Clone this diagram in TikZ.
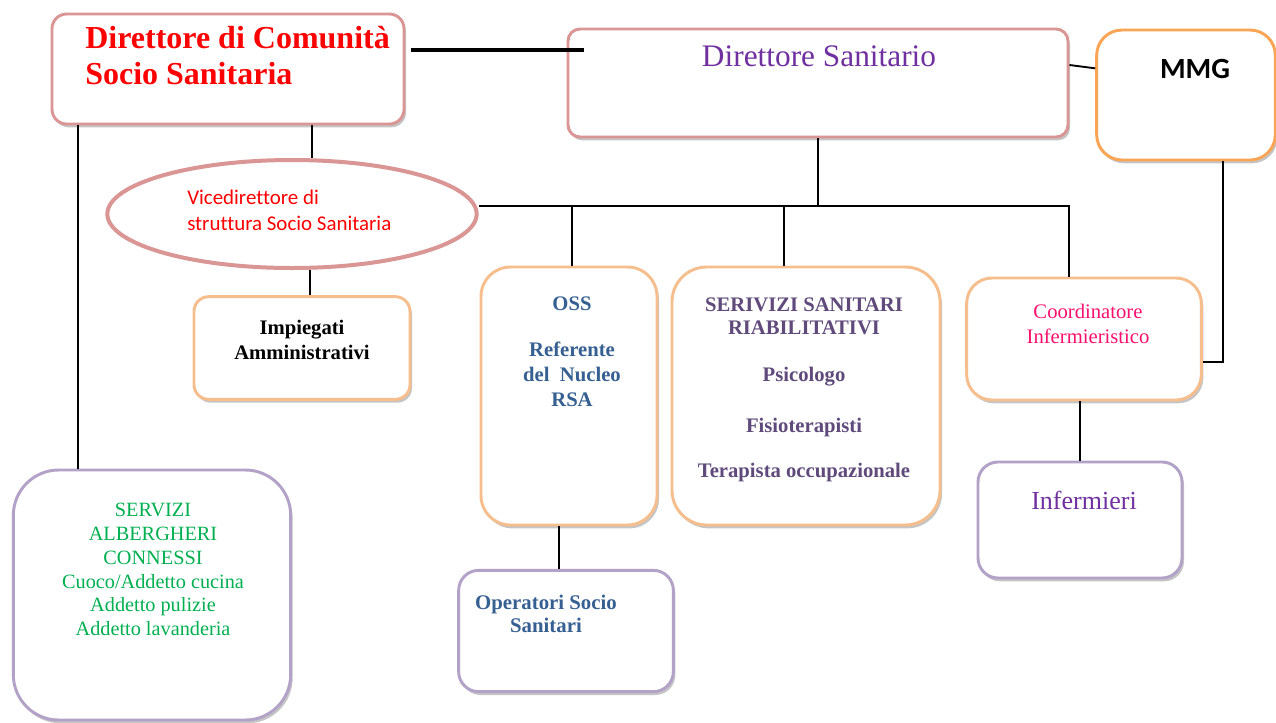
\documentclass[tikz,border=0pt]{standalone}
\usepackage{fontspec}
\setmainfont{Liberation Serif}
\newfontfamily\calibri[Ligatures={NoCommon}]{Carlito}
\usepackage{tikz}
\usetikzlibrary{arrows,shapes,positioning,shadows}
\usepackage{xcolor}
\definecolor{ocpink}{RGB}{217,150,148}
\definecolor{ocorange}{RGB}{245,190,140}
\definecolor{ocdeeporange}{RGB}{249,165,85}
\definecolor{ocpurple}{RGB}{179,162,199}
\definecolor{ocred}{RGB}{255,0,0}
\definecolor{ocviolet}{RGB}{112,48,160}
\definecolor{ocblue}{RGB}{55,96,146}
\definecolor{ocplum}{RGB}{96,74,123}
\definecolor{ocmagenta}{RGB}{250,15,110}
\definecolor{ocgreen}{RGB}{0,176,80}
\tikzstyle{box} = [rectangle, fill=white, line width=2.2pt, drop shadow={shadow xshift=1.5pt, shadow yshift=-2.5pt, fill=black!45, opacity=0.5}]
\tikzstyle{pinkbox} = [box, draw=ocpink]
\tikzstyle{orangebox} = [box, draw=ocorange]
\tikzstyle{purplebox} = [box, draw=ocpurple]
\tikzstyle{txt} = [inner sep=0pt, align=center, anchor=north]
\tikzstyle{link} = [line width=1.4pt, color=black]

\begin{document}
\begin{tikzpicture}[x=0.75pt, y=-0.75pt]
\fill[white] (0,0) rectangle (1276,722);
\useasboundingbox (0,0) rectangle (1276,722);

% Top level
\node (dirCom) [pinkbox, rounded corners=11pt, minimum width=264pt, minimum height=82.5pt] at (228,69) {};
\node (dirComT) [txt, anchor=north west, align=left, text=ocred, font=\fontsize{24}{27}\selectfont\bfseries] at (85,26) {Direttore di Comunità\\Socio Sanitaria};
\node (dirSan) [pinkbox, rounded corners=9pt, minimum width=375pt, minimum height=81pt] at (818,83) {};
\node (dirSanT) [txt, anchor=base, text=ocviolet, font=\fontsize{23.5}{27}\selectfont] at (819,66) {Direttore Sanitario};
\node (mmg) [box, draw=ocdeeporange, rounded corners=19pt, minimum width=134pt, minimum height=97.5pt] at (1186,95) {};
\node (mmgT) [txt, anchor=base, font=\calibri\bfseries\fontsize{22}{26}\selectfont] at (1195,78) {MMG};

% Second level
\node (vice) [ellipse, draw=ocpink, line width=3pt, fill=white, minimum width=277pt, minimum height=81pt] at (292,214) {};
\node (viceT) [txt, anchor=north west, align=left, text=ocred, font=\calibri\fontsize{15.7}{19.5}\selectfont] at (187,190) {Vicedirettore di\\struttura Socio Sanitaria};
\node (impieg) [orangebox, rounded corners=11pt, minimum width=162pt, minimum height=77pt] at (302,348) {};
\node (impiegT) [txt, font=\fontsize{15.5}{18.75}\selectfont\bfseries] at (302,320) {Impiegati\\Amministrativi};

% Services
\node (oss) [orangebox, rounded corners=22pt, minimum width=132pt, minimum height=193.5pt] at (569,396) {};
\node (ossT) [txt, text=ocblue, font=\fontsize{15.5}{18.5}\selectfont\bfseries] at (572,297) {OSS\\[16pt]Referente\\del\ \ Nucleo\\RSA};
\node (sanit) [orangebox, rounded corners=26pt, minimum width=201pt, minimum height=193.5pt] at (806,396) {};
\node (sanitT) [txt, text=ocplum, font=\fontsize{15.5}{17.25}\selectfont\bfseries] at (804,298) {SERIVIZI SANITARI\\RIABILITATIVI\\[18pt]Psicologo\\[21pt]Fisioterapisti\\[16.5pt]Terapista occupazionale};
\node (coord) [orangebox, rounded corners=19pt, minimum width=176pt, minimum height=91.5pt] at (1084,339) {};
\node (coordT) [txt, text=ocmagenta, font=\fontsize{15.5}{18.75}\selectfont] at (1088,304) {Coordinatore\\Infermieristico};

% Bottom level
\node (alber) [purplebox, rounded corners=34pt, minimum width=208pt, minimum height=187.5pt] at (152,595) {};
\node (alberT) [txt, text=ocgreen, font=\fontsize{15.2}{17.85}\selectfont] at (153,503) {SERVIZI\\ALBERGHERI\\CONNESSI\\Cuoco/Addetto cucina\\Addetto pulizie\\Addetto lavanderia};
\node (opss) [purplebox, rounded corners=15pt, minimum width=161pt, minimum height=91pt] at (566,631) {};
\node (opssT) [txt, text=ocblue, font=\fontsize{15.6}{17.25}\selectfont\bfseries] at (546,595) {Operatori Socio\\Sanitari};
\node (inferm) [purplebox, rounded corners=15pt, minimum width=153pt, minimum height=87pt] at (1080,520) {};
\node (infermT) [txt, anchor=base, text=ocviolet, font=\fontsize{19.5}{23}\selectfont] at (1084,509) {Infermieri};

% Connectors
\coordinate (j1) at ([xshift=4.5pt,yshift=14pt]dirCom.east);
\draw[link, line width=3pt] (j1) -- ([xshift=12.75pt]dirSan.west |- j1);
\draw[link] ([yshift=13.5pt]dirSan.east) -- ([yshift=20pt]mmg.west);
\coordinate (bus) at ([yshift=6pt]vice.east);
\draw[link] (dirSan.south) -- (dirSan.south |- bus);
\draw[link] (bus) -| ([xshift=-11pt]coord.north);
\draw[link] ([xshift=2pt]oss.north |- bus) -- ([xshift=2pt]oss.north);
\draw[link] ([xshift=-16.5pt]sanit.north |- bus) -- ([xshift=-16.5pt]sanit.north);
\draw[link] ([xshift=27.75pt]mmg.south) |- ([yshift=-17pt]coord.east);
\draw[link] ([xshift=63pt]dirCom.south) -- ([xshift=63pt]dirCom.south |- vice.north);
\draw[link] ([xshift=-112.5pt]dirCom.south) -- ([xshift=-112.5pt]dirCom.south |- alber.north);
\draw[link] ([xshift=6pt]impieg.north) -- ([xshift=6pt]impieg.north |- vice.south);
\draw[link] ([xshift=-5pt]opss.north) -- ([xshift=-5pt]opss.north |- oss.south);
\draw[link] (inferm.north) -- (inferm.north |- coord.south);
\end{tikzpicture}
\end{document}
